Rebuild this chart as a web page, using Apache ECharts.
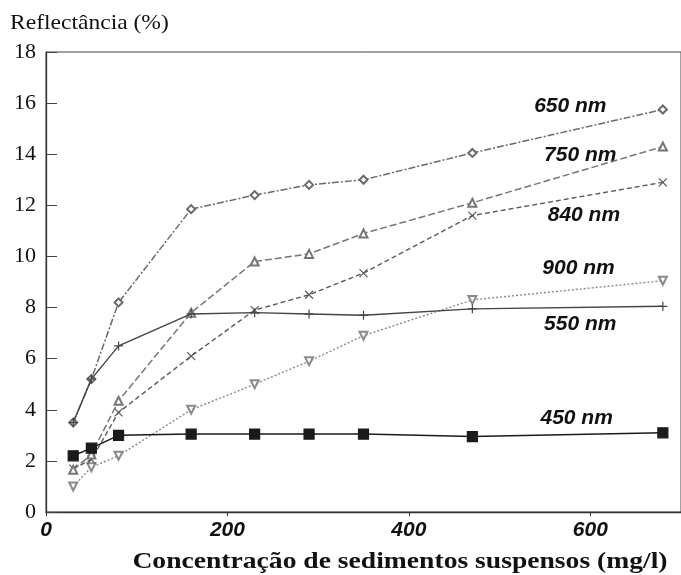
<!DOCTYPE html>
<html>
<head>
<meta charset="utf-8">
<script src="https://cdn.jsdelivr.net/npm/echarts@6/dist/echarts.min.js"></script>
<style>
  html, body { margin: 0; padding: 0; background: #fff; }
  #chart { width: 681px; height: 575px; }
</style>
</head>
<body>
<div id="chart"></div>
<script>
// Suspended sediment concentration (mg/l) and reflectance (%) per wavelength
const concentration = [30, 50, 80, 160, 230, 290, 350, 470, 680];
const r450 = [2.2, 2.5, 3.0, 3.05, 3.05, 3.05, 3.05, 2.95, 3.1];
const r550 = [3.5, 5.2, 6.5, 7.75, 7.8, 7.75, 7.7, 7.95, 8.05];
const r650 = [3.5, 5.2, 8.2, 11.85, 12.4, 12.8, 13.0, 14.05, 15.75];
const r750 = [1.65, 2.25, 4.35, 7.8, 9.8, 10.1, 10.9, 12.1, 14.3];
const r840 = [1.7, 2.05, 3.9, 6.1, 7.9, 8.5, 9.35, 11.6, 12.9];
const r900 = [1.0, 1.75, 2.2, 4.0, 5.0, 5.9, 6.9, 8.3, 9.05];

const seriesNames = ['450 nm', '550 nm', '650 nm', '750 nm', '840 nm', '900 nm'];
const seriesValues = [r450, r550, r650, r750, r840, r900];
// where each wavelength label sits, in data units
const labelX = [585, 589, 578, 589, 593, 587];
const labelY = [3.68, 7.36, 15.86, 13.97, 11.62, 9.55];

const xTicks = [0, 200, 400, 600];
const yTicks = [0, 2, 4, 6, 8, 10, 12, 14, 16, 18];

const styles = [
  { color: '#1a1a1a', type: 'solid',  width: 1.5, symbol: 'rect', size: 10, filled: true },
  { color: '#444',    type: 'solid',  width: 1.4, symbol: 'path://M5,0L5,10M0,5L10,5', size: 9, filled: true },
  { color: '#6a6a6a', type: [7, 2, 2, 2], width: 1.5, symbol: 'emptyDiamond', size: 8 },
  { color: '#767676', type: [7, 3],  width: 1.5, symbol: 'emptyTriangle', size: 8 },
  { color: '#5a5a5a', type: [5, 3],  width: 1.4, symbol: 'path://M0,0L10,10M10,0L0,10', size: 8, filled: true },
  { color: '#8a8a8a', type: [2, 2],  width: 1.4, symbol: 'emptyTriangle', size: 8, rotate: 180 }
];

const chart = echarts.init(document.getElementById('chart'));

const series = seriesNames.map((name, i) => {
  const s = styles[i];
  return {
    name: name,
    type: 'line',
    data: concentration.map((c, j) => [c, seriesValues[i][j]]),
    symbol: s.symbol,
    symbolSize: s.size,
    symbolRotate: s.rotate || 0,
    showAllSymbol: true,
    z: 10 - i,
    lineStyle: { color: s.color, width: s.width, type: s.type },
    itemStyle: { color: s.color, borderColor: s.color, borderWidth: 1.2 },
    markPoint: {
      symbol: 'circle',
      symbolSize: 0,
      silent: true,
      data: [{ coord: [labelX[i], labelY[i]], value: name }],
      label: {
        show: true,
        position: 'inside',
        formatter: name,
        color: '#111',
        fontFamily: 'Liberation Sans',
        fontWeight: 'bold',
        fontStyle: 'italic',
        fontSize: 21
      }
    }
  };
});

chart.setOption({
  animation: false,
  backgroundColor: '#fff',
  grid: {
    left: 46, right: -6, top: 52, bottom: 63,
    show: true, borderColor: '#444', borderWidth: 1
  },
  xAxis: {
    type: 'value',
    min: 0, max: 700, interval: 200,
    axisLine: { show: true, lineStyle: { color: '#333', width: 1.3 } },
    axisTick: { show: true, inside: false, length: 4, lineStyle: { color: '#333' } },
    splitLine: { show: false },
    axisLabel: {
      showMaxLabel: false,
      margin: 8,
      color: '#111',
      fontFamily: 'Liberation Sans',
      fontWeight: 'bold',
      fontStyle: 'italic',
      fontSize: 21,
      formatter: v => (xTicks.indexOf(v) >= 0 ? String(v) : '')
    }
  },
  yAxis: {
    type: 'value',
    min: 0, max: 18, interval: 2,
    axisLine: { show: true, lineStyle: { color: '#333', width: 1.3 } },
    axisTick: { show: true, inside: true, length: 11, lineStyle: { color: '#444' } },
    splitLine: { show: false },
    axisLabel: {
      margin: 10,
      color: '#111',
      fontFamily: 'Liberation Serif',
      fontSize: 22,
      formatter: v => (yTicks.indexOf(v) >= 0 ? String(v) : '')
    }
  },
  graphic: [
    {
      type: 'text', x: 10, y: 23, scaleX: 1.07,
      style: { text: 'Reflectância (%)', font: '22px "Liberation Serif"', fill: '#111', verticalAlign: 'middle' }
    },
    {
      type: 'text', x: 400, y: 562, scaleX: 1.2,
      style: {
        text: 'Concentração de sedimentos suspensos (mg/l)',
        font: 'bold 23px "Liberation Serif"', fill: '#111',
        align: 'center', verticalAlign: 'middle'
      }
    }
  ],
  series: series
});
</script>
</body>
</html>
